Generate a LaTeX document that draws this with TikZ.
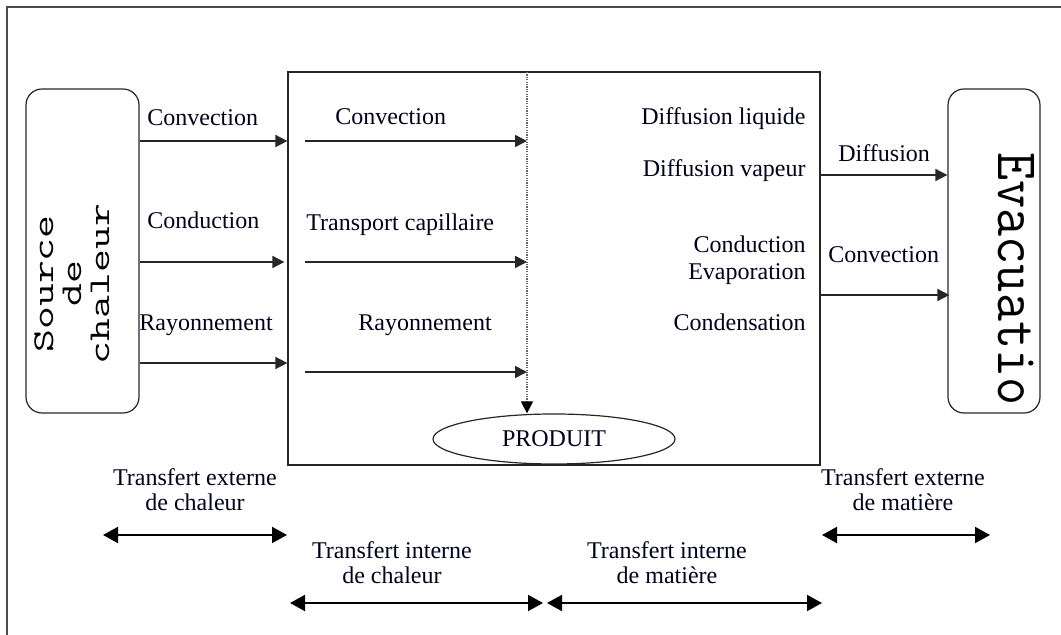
\documentclass[tikz,border=0pt]{standalone}
\usepackage{fontspec}
\setmainfont{Liberation Serif}
\usetikzlibrary{arrows.meta,shapes.geometric}
\tikzset{
  frameline/.style={draw=black!70, line width=1pt},
  box/.style={draw=black!85, line width=0.6pt, inner sep=0pt},
  rbox/.style={box, rounded corners=8pt},
  arr/.style={draw=black!85, line width=0.8pt, -{Triangle[length=6pt,width=6pt]}},
  darr/.style={draw=black, line width=1pt, {Triangle[length=7.5pt,width=8pt]}-{Triangle[length=7.5pt,width=8pt]}},
  dotline/.style={draw=black!60, line width=0.6pt, dash pattern=on 0.6pt off 0.6pt, -{Triangle[length=6pt,width=6pt,color=black]}},
  lbl/.style={font=\fontsize{12}{12.5}\selectfont, inner sep=0pt, text=black!90!blue},
  blbl/.style={lbl, align=center},
}
\begin{document}
\begin{tikzpicture}[x=0.5pt,y=-0.5pt]
\useasboundingbox (0,0) rectangle (1061,635);
% outer frame (top and left edges)
\coordinate (fa) at (7,635);
\coordinate (fb) at (7,7);
\coordinate (fc) at (1061,7);
\draw[frameline] (fa) -- (fb) -- (fc);

% boxes
\node[rbox, minimum width=56.5pt, minimum height=162pt] (src) at (82.5,251) {};
\node[rbox, minimum width=46pt, minimum height=162pt] (evac) at (994,251) {};
\node[box, minimum width=266pt, minimum height=196.5pt] (main) at (554,268.5) {};

% rotated texts
\node[rotate=90, inner sep=0pt] (srctxt) at (76,284)
  {\scalebox{1}[0.68]{\ttfamily\fontsize{22.2}{20.6}\selectfont\begin{tabular}{@{}c@{}}{\addfontfeatures{LetterSpace=8}Source}\\de\\chaleur\end{tabular}}};
\node[rotate=-90, inner sep=0pt] (evtxt) at (1016,279)
  {\scalebox{1}[1.08]{\ttfamily\fontsize{27.3}{28}\selectfont Evacuatio}};

% product ellipse and dotted line
\node[draw=black!85, line width=0.6pt, ellipse, minimum width=121pt, minimum height=25pt, inner sep=0pt, lbl] (prod) at (554,439) {PRODUIT};
\coordinate (dtop) at (527,72);
\draw[dotline] (dtop) -- (dtop |- prod.north);

% left arrows
\coordinate (l1) at (0,141);
\coordinate (l2) at (0,262);
\coordinate (l3) at (0,363);
\draw[arr] (src.east |- l1) -- (main.west |- l1);
\draw[arr] (src.east |- l2) -- ([xshift=-1.5pt]main.west |- l2);
\draw[arr] (src.east |- l3) -- (main.west |- l3);
\node[lbl, anchor=mid west] (t1) at (147,121) {Convection};
\node[lbl, anchor=mid west] (t2) at (147,224) {Conduction};
\node[lbl, anchor=mid west] (t3) at (139,326) {Rayonnement};

% inner arrows
\coordinate (i1) at (305,141);
\coordinate (i2) at (305,262);
\coordinate (i3) at (305,372);
\draw[arr] (i1) -- (i1 -| dtop);
\draw[arr] (i2) -- (i2 -| dtop);
\draw[arr] (i3) -- (i3 -| dtop);
\node[lbl, anchor=mid west] (u1) at (335,120) {Convection};
\node[lbl, anchor=mid west] (u2) at (306,226) {Transport capillaire};
\node[lbl, anchor=mid west] (u3) at (358,326) {Rayonnement};

% right-side internal labels
\node[lbl, anchor=mid east] (m1) at (806,120) {Diffusion liquide};
\node[lbl, anchor=mid east] (m2) at (806,172) {Diffusion vapeur};
\node[lbl, anchor=mid east] (m3) at (806,248) {Conduction};
\node[lbl, anchor=mid east] (m4) at (806,275) {Evaporation};
\node[lbl, anchor=mid east] (m5) at (806,326) {Condensation};

% right arrows
\coordinate (r1) at (0,175);
\coordinate (r2) at (0,295);
\draw[arr] (main.east |- r1) -- (evac.west |- r1);
\draw[arr] (main.east |- r2) -- ([xshift=1pt]evac.west |- r2);
\node[lbl, anchor=mid west] (v1) at (838,157) {Diffusion};
\node[lbl, anchor=mid west] (v2) at (828,258) {Convection};

% bottom labels and double arrows
\node[blbl, anchor=north] (b1) at (195,468) {Transfert externe\\de chaleur};
\node[blbl, anchor=north] (b2) at (392,541) {Transfert interne\\de chaleur};
\node[blbl, anchor=north] (b3) at (667,541) {Transfert interne\\de matière};
\node[blbl, anchor=north] (b4) at (903,468) {Transfert externe\\de matière};
\coordinate (a1) at (103,535);
\coordinate (a2) at (287,535);
\coordinate (a3) at (290,603);
\coordinate (a4) at (543,603);
\coordinate (a5) at (547,603);
\coordinate (a6) at (822,603);
\coordinate (a7) at (822,535);
\coordinate (a8) at (990,535);
\draw[darr] (a1) -- (a2);
\draw[darr] (a3) -- (a4);
\draw[darr] (a5) -- (a6);
\draw[darr] (a7) -- (a8);
\end{tikzpicture}
\end{document}
